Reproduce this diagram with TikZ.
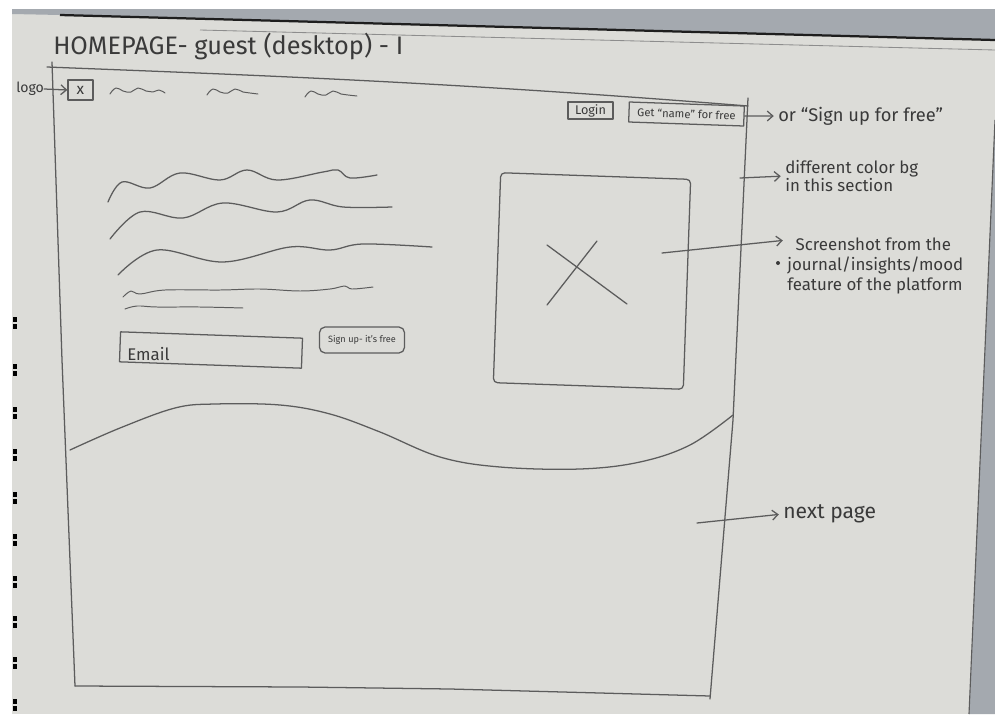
\documentclass[tikz,border=0pt]{standalone}
\usepackage{fontspec}
\setmainfont{Fira Sans}
\usetikzlibrary{arrows.meta}
\definecolor{paper}{HTML}{DCDCD8}
\definecolor{pencil}{HTML}{5C5C5C}
\definecolor{ink}{HTML}{3A3A3A}
\definecolor{band}{HTML}{A4A9AF}
\definecolor{edge}{HTML}{1E1E1E}
\begin{document}
\begin{tikzpicture}[x=0.025cm,y=-0.025cm,
  pen/.style={draw=pencil, line width=0.9pt, line cap=round, line join=round},
  thinpen/.style={draw=pencil, line width=0.7pt, line cap=round, line join=round},
  note/.style={text=ink, inner sep=0pt, anchor=west},
  arr/.style={pen, -{Straight Barb[length=4pt,width=7pt]}, shorten >=3pt},
  boxbtn/.style={pen, inner sep=0pt, text=ink, rectangle}
]
\useasboundingbox (0,0) rectangle (995,718);
% background: white frame, paper, notebook edges
\fill[white] (0,0) rectangle (995,718);
\fill[paper] (12,10) rectangle (995,714);
\fill[band] (12,9) -- (995,9) -- (995,40) -- (60,15) -- (12,14) -- cycle;
\draw[edge, line width=1.6pt] (60,15) -- (995,40);
\draw[pencil!70, line width=0.6pt] (200,30) -- (995,50);
\fill[band] (995,120) -- (995,714) -- (969,714) -- cycle;
\draw[pencil, line width=0.8pt] (995,120) -- (969,714);
\foreach \yy in {323,370,413,455,498,540,582,622,663,705}{
  \fill[black] (13,\yy-6) rectangle (17,\yy-1);
  \fill[black] (13,\yy+1) rectangle (17,\yy+6);
}

% title
\node[note, anchor=base west, font=\fontsize{18}{20}\selectfont] (title) at (53,54) {HOMEPAGE- guest (desktop) - I};

% page frame
\draw[pen] (47,67) .. controls (250,75) and (450,82) .. (748,106);
\draw[pen] (52,62) -- (62,360) -- (75,686);
\draw[pen] (75,686) -- (300,687) -- (450,689) -- (600,693) -- (710,696);
\draw[pen] (748,98) -- (733,420) -- (710,699);

% logo + nav
\node[note, font=\fontsize{10}{12}\selectfont] (logolbl) at (16,89) {logo};
\node[boxbtn, minimum width=0.625cm, minimum height=0.5cm, font=\fontsize{11}{12}\selectfont] (logo) at (80.5,90) {x};
\draw[arr, shorten >=0pt] (logolbl.east) -- (logo.west);
\draw[thinpen] plot[smooth, tension=0.8] coordinates {(110,94) (116,88) (123,91) (131,92) (138,88) (146,91) (153,92) (159,90) (165,93)};
\draw[thinpen] plot[smooth, tension=0.8] coordinates {(207,95) (213,89) (220,92) (228,93) (235,89) (243,92) (250,93) (258,94)};
\draw[thinpen] plot[smooth, tension=0.8] coordinates {(305,97) (311,91) (318,94) (326,95) (333,91) (341,94) (348,95) (357,96)};

% top buttons
\node[boxbtn, minimum width=1.125cm, minimum height=0.42cm, font=\fontsize{9}{10}\selectfont] (login) at (590.5,110.5) {Login};
\node[boxbtn, minimum width=2.875cm, minimum height=0.5cm, rotate=-2, font=\fontsize{8}{9}\selectfont] (getfree) at (686.5,114) {Get “name” for free};
\node[note, font=\fontsize{13}{15}\selectfont] (orsign) at (778,116) {or “Sign up for free”};
\draw[arr] (getfree.east) -- (orsign.west);

% different color bg
\node[note, align=left, font=\fontsize{12}{12.5}\selectfont] (diffbg) at (785,176) {different color bg\\in this section};
\coordinate (diffstart) at (740,178);
\draw[arr] (diffstart) -- (diffbg.west);

% hero text scribbles
\draw[pen] plot[smooth, tension=0.6] coordinates {(108,202) (122,182) (150,188) (180,173) (220,180) (247,170) (277,180) (323,172) (338,170) (350,178) (377,175)};
\draw[pen] plot[smooth, tension=0.6] coordinates {(110,239) (140,212) (183,218) (223,203) (277,212) (310,200) (343,207) (392,207)};
\draw[pen] plot[smooth, tension=0.6] coordinates {(118,275) (157,250) (223,262) (290,247) (330,250) (363,244) (432,247)};
\draw[thinpen] plot[smooth, tension=0.6] coordinates {(123,297) (131,291) (140,294) (165,290) (220,290) (260,289) (300,291) (330,289) (345,286) (352,289) (373,287)};
\draw[thinpen] plot[smooth, tension=0.6] coordinates {(125,309) (137,306) (157,307) (200,307) (243,308)};

% email + sign up
\node[boxbtn, minimum width=4.55cm, minimum height=0.75cm, rotate=-2] (email) at (211,350) {};
\node[note, font=\fontsize{12}{13}\selectfont] (emailtxt) at (127,354) {Email};
\node[boxbtn, rounded corners=4pt, minimum width=2.125cm, minimum height=0.65cm, font=\fontsize{6.5}{7}\selectfont] (signup) at (362,340) {Sign up- it’s free};

% screenshot placeholder
\node[boxbtn, rounded corners=3pt, minimum width=4.75cm, minimum height=5.25cm, rotate=-2] (shot) at (592,281) {};
\draw[pen] (547,245) -- (585,273) -- (627,304);
\draw[pen] (597,241) -- (547,305);
\node[note, align=left, font=\fontsize{12}{14.5}\selectfont] (shottxt) at (787,266) {\hspace*{6pt}Screenshot from the\\journal/insights/mood\\feature of the platform};
\fill[ink] (778,263) circle (2);
\coordinate (shotstart) at (662,253);
\draw[arr] (shotstart) -- (shottxt.west |- 0,240);

% section divider
\draw[pen] plot[smooth, tension=0.6] coordinates {(70,450) (120,428) (175,408) (215,404) (280,405) (330,414) (380,432) (440,457) (500,467) (580,469) (640,462) (690,445) (733,415)};

% next page
\node[note, font=\fontsize{15}{16}\selectfont] (nextp) at (783,514) {next page};
\coordinate (nextstart) at (697,523);
\draw[arr] (nextstart) -- (nextp.west);
\end{tikzpicture}
\end{document}
